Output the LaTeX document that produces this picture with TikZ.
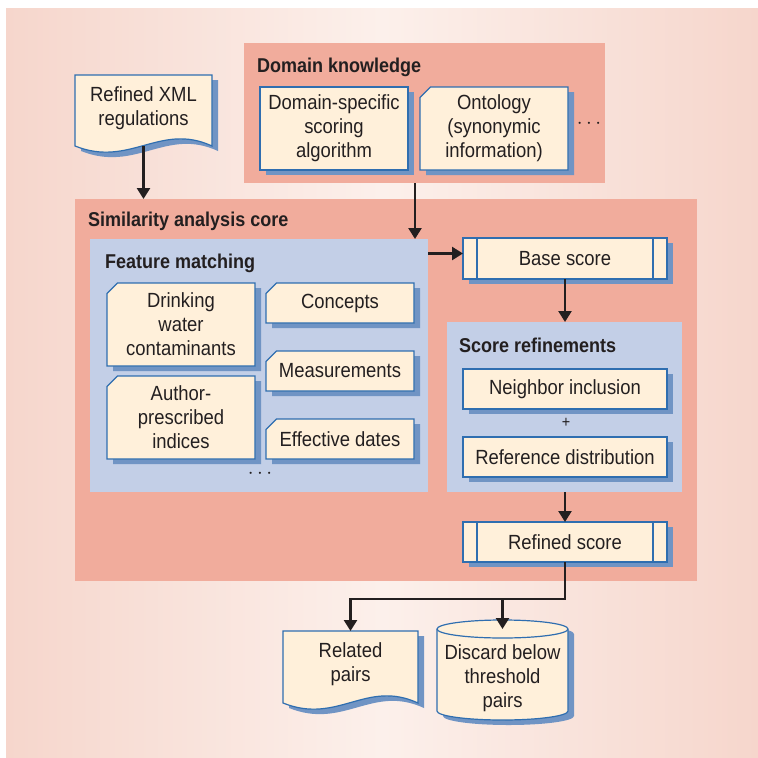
\documentclass[tikz,border=0pt]{standalone}
\usepackage{fontspec}
\setmainfont{Liberation Sans}[FakeStretch=0.9]
\usetikzlibrary{arrows.meta,shapes.misc,shadows,calc}
\definecolor{bgside}{HTML}{F6D6CC}
\definecolor{bgmid}{HTML}{FCF0EB}
\definecolor{salmon}{HTML}{F1AC9C}
\definecolor{panelblue}{HTML}{C3CFE7}
\definecolor{cream}{HTML}{FFF0DA}
\definecolor{boxblue}{HTML}{2F6EB0}
\definecolor{shadowblue}{HTML}{7094C4}
\definecolor{ink}{HTML}{231F20}
\newcommand\mydocpath[3]{([xshift=#2,yshift=#3]#1.north west) -- ([xshift=#2,yshift=#3]#1.north east) -- ([xshift=#2,yshift=#3]#1.south east) .. controls ([xshift={#2-52pt},yshift={#3+24pt}]#1.south east) and ([xshift={#2+55pt},yshift={#3-22pt}]#1.south west) .. ([xshift=#2,yshift=#3]#1.south west) -- cycle}
\newcommand\mydocshape[1]{%
  \fill[shadowblue] \mydocpath{#1}{6pt}{-5pt};
  \draw[boxblue,line width=1.2pt,fill=cream] \mydocpath{#1}{0pt}{0pt};}
\begin{document}
\begin{tikzpicture}[x=1pt,y=-1pt,
  panel/.style={fill=#1,inner sep=0pt,outer sep=0pt},
  title/.style={anchor=west,inner sep=0pt,text=ink,font=\fontsize{20}{24}\selectfont\bfseries},
  txt/.style={inner sep=0pt,outer sep=0pt,align=center,text=ink,font=\fontsize{20.5}{24}\selectfont},
  box/.style={txt,draw=boxblue,line width=1.2pt,fill=cream,
    drop shadow={shadow xshift=6pt,shadow yshift=-5pt,fill=shadowblue,opacity=1}},
  cbox/.style={box,chamfered rectangle,chamfered rectangle corners=north west,chamfered rectangle xsep=7pt},
  arr/.style={draw=ink,line width=2.5pt,-{Triangle[length=11pt,width=13pt]}},
  dots/.style={inner sep=0pt,text=ink,font=\fontsize{20}{24}\selectfont}]
\useasboundingbox (0,0) rectangle (758,758);
\shade[left color=bgside,right color=bgside,middle color=bgmid] (6,8) rectangle (758,757);

% panels
\node[panel=salmon,minimum width=361pt,minimum height=140pt] (domainP) at (424.5,113) {};
\node[panel=salmon,minimum width=622pt,minimum height=382pt] (coreP) at (386,390) {};
\node[panel=panelblue,minimum width=338pt,minimum height=253pt] (fmP) at (259,365.5) {};
\node[panel=panelblue,minimum width=235pt,minimum height=170pt] (srP) at (564.5,407) {};

% titles
\node[title] (domainT) at (257,67) {Domain knowledge};
\node[title] (coreT) at (88,221) {Similarity analysis core};
\node[title] (fmT) at (105,263) {Feature matching};
\node[title] (srT) at (459,345) {Score refinements};

% domain knowledge
\node[box,minimum width=148pt,minimum height=83pt] (dsa) at (334,128.5) {Domain-specific\\scoring\\algorithm};
\node[cbox,minimum width=148pt,minimum height=83pt] (onto) at (494,128.5) {Ontology\\(synonymic\\information)};
\node[dots] (dkdots) at (589,124) {$\cdots$};

% XML document
\node[txt,minimum width=137pt,minimum height=71pt] (xml) at (143.5,110.5) {};
\mydocshape{xml}
\node[txt] (xmltext) at (143.5,108) {Refined XML\\regulations};

% feature matching
\node[cbox,minimum width=148pt,minimum height=83pt] (dwc) at (181,324.5) {Drinking\\water\\contaminants};
\node[cbox,minimum width=148pt,minimum height=83pt] (api) at (181,417.5) {Author-\\prescribed\\indices};
\node[cbox,minimum width=148pt,minimum height=40pt] (concepts) at (340,303) {Concepts};
\node[cbox,minimum width=148pt,minimum height=40pt] (meas) at (340,371) {Measurements};
\node[cbox,minimum width=148pt,minimum height=40pt] (eff) at (340,439) {Effective dates};
\node[dots] (fmdots) at (260,474) {$\cdots$};

% scores
\node[box,minimum width=204pt,minimum height=41pt] (base) at (565,258.5) {Base score};
\node[box,minimum width=204pt,minimum height=40pt] (neigh) at (565,389) {Neighbor inclusion};
\node[txt,font=\fontsize{16}{18}\selectfont] (plus) at (566,423) {+};
\node[box,minimum width=204pt,minimum height=40pt] (refdist) at (565,457) {Reference distribution};
\node[box,minimum width=204pt,minimum height=40pt] (refined) at (565,542) {Refined score};
\foreach \n in {base,refined}{
  \draw[boxblue,line width=1.2pt] ([xshift=14pt]\n.north west) -- ([xshift=14pt]\n.south west);
  \draw[boxblue,line width=1.2pt] ([xshift=-14pt]\n.north east) -- ([xshift=-14pt]\n.south east);
}

% outputs
\node[txt,minimum width=135pt,minimum height=72pt] (related) at (350.5,667) {};
\mydocshape{related}
\node[txt] (reltext) at (350.5,664) {Related\\pairs};

\fill[shadowblue,shift={(6pt,-5pt)}] (437,629) -- (437,711) arc[start angle=180,end angle=360,x radius=65.5pt,y radius=9pt] -- (568,629) arc[start angle=0,end angle=180,x radius=65.5pt,y radius=9pt] -- cycle;
\draw[boxblue,line width=1.2pt,fill=cream] (437,629) -- (437,711) arc[start angle=180,end angle=360,x radius=65.5pt,y radius=9pt] -- (568,629) arc[start angle=0,end angle=180,x radius=65.5pt,y radius=9pt] -- cycle;
\draw[boxblue,line width=1.2pt] (437,629) arc[start angle=180,end angle=360,x radius=65.5pt,y radius=9pt];
\node[txt] (discard) at (502.5,678) {Discard below\\threshold\\pairs};
\coordinate (disctop) at (502.5,629);

% connectors
\draw[arr] (xml.south) -- (xml.south |- coreP.north);
\coordinate (dk) at ([xshift=-13pt]fmP.north east);
\draw[arr] (dk |- domainP.south) -- (dk);
\coordinate (fb) at ([yshift=5pt]base.west);
\draw[arr] (fb -| fmP.east) -- (fb);
\draw[arr] (base.south) -- (base.south |- srP.north);
\draw[arr] (base.south |- srP.south) -- (refined.north);
\coordinate (bend) at ([yshift=-37pt]refined.south);
\draw[arr] (refined.south) -- (bend) -| (related.north);
\draw[arr] (bend -| disctop) -- (disctop);
\end{tikzpicture}
\end{document}
